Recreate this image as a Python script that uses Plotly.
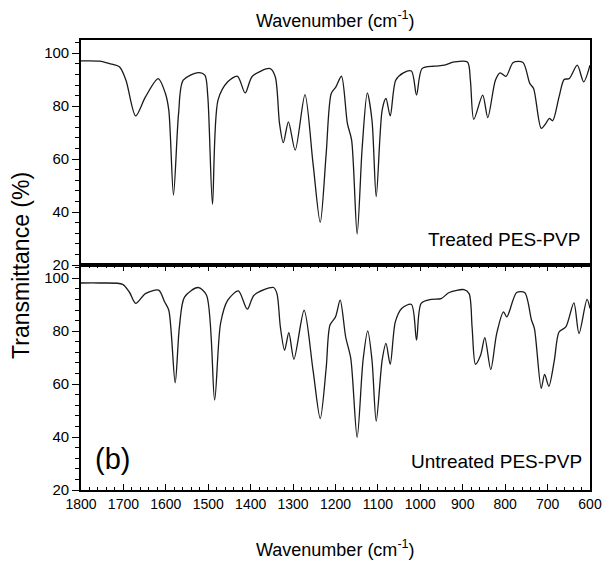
import plotly.graph_objects as go
from plotly.subplots import make_subplots

# Treated PES-PVP (top panel)
wn_treated = [1800, 1756, 1733, 1709, 1694, 1671, 1648, 1618, 1601, 1593, 1582, 1570, 1559,
              1524, 1508, 1501, 1490, 1477, 1454, 1431, 1413, 1396, 1354, 1342, 1332, 1323,
              1311, 1295, 1272, 1253, 1236, 1222, 1210, 1199, 1186, 1172, 1162, 1149, 1137,
              1125, 1114, 1104, 1090, 1081, 1071, 1058, 1040, 1021, 1009, 996, 967, 943, 920,
              889, 882, 874, 853, 841, 823, 812, 798, 781, 758, 742, 733, 715, 704, 696, 688,
              673, 661, 649, 630, 615, 600]
t_treated = [97.1, 97.0, 96.1, 94.8, 89.8, 76.3, 83.5, 90.4, 84.8, 78.5, 46.4, 77.2, 89.8,
             92.7, 91.7, 83.5, 42.9, 82.3, 89.2, 91.3, 85.0, 91.3, 94.2, 91.1, 73.5, 66.2,
             74.1, 63.4, 84.4, 58.4, 36.1, 62.0, 84.8, 87.3, 91.3, 73.5, 67.2, 31.7, 64.6,
             85.0, 74.7, 45.8, 78.5, 82.9, 76.3, 89.8, 92.6, 93.3, 84.2, 94.2, 95.1, 95.5, 96.7,
             96.7, 89.8, 75.0, 84.2, 75.7, 89.8, 92.6, 91.3, 96.5, 96.5, 88.6, 86.7, 71.6, 73.5,
             75.4, 74.5, 83.5, 90.1, 90.4, 95.5, 89.2, 95.5]

# Untreated PES-PVP (bottom panel)
wn_untreated = [1800, 1756, 1702, 1686, 1671, 1648, 1617, 1603, 1593, 1578, 1568, 1556, 1524,
                1504, 1485, 1471, 1454, 1429, 1408, 1392, 1346, 1338, 1330, 1320, 1310, 1298,
                1274, 1253, 1236, 1222, 1213, 1200, 1189, 1176, 1164, 1149, 1135, 1124, 1114,
                1104, 1090, 1081, 1071, 1059, 1044, 1021, 1009, 998, 974, 951, 932, 897, 885,
                878, 870, 858, 848, 834, 820, 804, 796, 773, 754, 738, 731, 715, 707, 697, 684,
                673, 657, 638, 626, 607, 600]
t_untreated = [98.2, 98.2, 97.7, 94.8, 90.5, 94.2, 95.5, 91.1, 87.9, 60.5, 81.6, 92.9, 96.5,
               93.6, 54.0, 82.9, 91.7, 95.2, 88.3, 93.6, 96.5, 94.2, 81.6, 72.8, 79.4, 69.4,
               87.9, 65.3, 47.0, 66.0, 82.3, 85.4, 91.7, 77.8, 69.7, 39.9, 69.1, 80.1, 69.1,
               46.0, 69.1, 75.4, 67.5, 83.5, 88.6, 90.1, 76.6, 90.5, 92.0, 92.3, 94.6, 95.7, 94.2,
               81.6, 67.5, 70.9, 77.6, 65.5, 79.1, 87.3, 85.4, 94.6, 94.6, 84.2, 81.0, 58.4, 63.7,
               59.2, 69.1, 79.7, 81.6, 90.7, 79.1, 92.0, 88.6]

x_ticks = [1800, 1700, 1600, 1500, 1400, 1300, 1200, 1100, 1000, 900, 800, 700, 600]
y_ticks = [20, 40, 60, 80, 100]

FONT = "Liberation Sans, Arial, sans-serif"

fig = make_subplots(rows=2, cols=1, shared_xaxes=False, vertical_spacing=0.0)

line_style = dict(color="#1a1a1a", width=1.3, shape="spline", smoothing=0.8)
fig.add_trace(go.Scatter(x=wn_treated, y=t_treated, mode="lines", line=line_style,
                         showlegend=False), row=1, col=1)
fig.add_trace(go.Scatter(x=wn_untreated, y=t_untreated, mode="lines", line=line_style,
                         showlegend=False), row=2, col=1)

# x axes
fig.update_xaxes(range=[1800, 600], showline=True, linecolor="black", linewidth=1.6,
                 mirror=True, showgrid=False, zeroline=False, ticks="", showticklabels=False,
                 row=1, col=1)
fig.update_xaxes(range=[1800, 600], showline=True, linecolor="black", linewidth=1.6,
                 mirror="ticks", showgrid=False, zeroline=False, ticks="inside",
                 tickvals=x_ticks, ticklen=6, tickwidth=1.4, tickcolor="black",
                 tickfont=dict(family=FONT, size=14, color="black"),
                 minor=dict(dtick=20, ticks="inside", ticklen=3, tickwidth=1.2, tickcolor="black"),
                 row=2, col=1)
# y axes
for r in (1, 2):
    fig.update_yaxes(range=[20, 105], showline=True, linecolor="black", linewidth=1.6,
                     mirror=True, showgrid=False, zeroline=False, ticks="outside",
                     tickvals=y_ticks, ticklen=7, tickwidth=1.4, tickcolor="black",
                     tickfont=dict(family=FONT, size=15, color="black"),
                     minor=dict(dtick=4, ticks="outside", ticklen=4, tickwidth=1.2,
                                tickcolor="black"),
                     row=r, col=1)

fig.update_layout(
    width=606, height=553,
    margin=dict(l=73, r=16, t=32, b=71),
    paper_bgcolor="white", plot_bgcolor="white",
    font=dict(family=FONT, color="black"),
    annotations=[
        dict(text="Wavenumber (cm<sup>-1</sup>)", xref="paper", yref="paper", x=0.5, y=1.046,
             showarrow=False, font=dict(size=18, family=FONT), xanchor="center", yanchor="middle"),
        dict(text="Wavenumber (cm<sup>-1</sup>)", xref="paper", yref="paper", x=0.5, y=-0.129,
             showarrow=False, font=dict(size=18, family=FONT), xanchor="center", yanchor="middle"),
        dict(text="Transmittance (%)", xref="paper", yref="paper", x=-0.118, y=0.5, textangle=-90,
             showarrow=False, font=dict(size=23, family=FONT), xanchor="center", yanchor="middle"),
        dict(text="Treated PES-PVP", xref="x", yref="y", x=618, y=29.8, showarrow=False,
             font=dict(size=19, family=FONT), xanchor="right", yanchor="middle"),
        dict(text="Untreated PES-PVP", xref="x2", yref="y2", x=614, y=30.6, showarrow=False,
             font=dict(size=19, family=FONT), xanchor="right", yanchor="middle"),
        dict(text="(b)", xref="x2", yref="y2", x=1726, y=31.7, showarrow=False,
             font=dict(size=29, family=FONT), xanchor="center", yanchor="middle"),
    ],
)

fig.write_html("out.html")
